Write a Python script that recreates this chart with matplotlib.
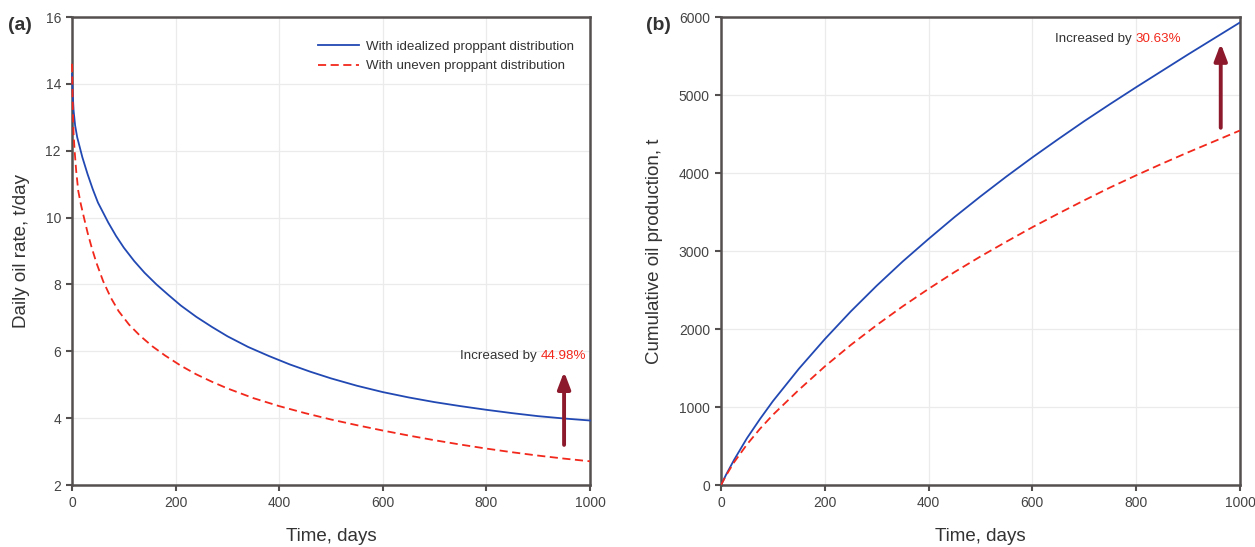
import matplotlib
matplotlib.use("Agg")
import matplotlib.pyplot as plt

plt.rcParams['font.family'] = ['Liberation Sans', 'DejaVu Sans']

# daily oil rate, t/day
t_rate_ideal = [0, 1, 3, 6, 10, 15, 20, 30, 40, 50, 60, 70, 85, 100, 120, 140, 163, 185, 210,
                240, 270, 300, 340, 380, 420, 460, 500, 550, 600, 650, 700, 750, 800, 850,
                900, 950, 1000]
rate_ideal = [14.3, 13.8, 13.2, 12.75, 12.4, 12.1, 11.8, 11.3, 10.85, 10.45, 10.15, 9.85,
              9.45, 9.1, 8.7, 8.35, 8.0, 7.7, 7.37, 7.03, 6.73, 6.45, 6.13, 5.86, 5.61, 5.39,
              5.19, 4.97, 4.78, 4.62, 4.48, 4.36, 4.25, 4.15, 4.06, 3.99, 3.93]
t_rate_uneven = [0, 1, 2, 3, 5, 8, 12, 17, 23, 30, 38, 47, 60, 75, 90, 110, 131, 155, 180,
                 210, 240, 270, 300, 350, 400, 450, 500, 550, 600, 650, 700, 750, 800, 850,
                 900, 950, 1000]
rate_uneven = [14.6, 13.7, 13.0, 12.5, 12.0, 11.4, 10.8, 10.4, 10.0, 9.55, 9.1, 8.65, 8.1,
               7.6, 7.2, 6.8, 6.47, 6.15, 5.87, 5.57, 5.31, 5.09, 4.89, 4.6, 4.36, 4.15,
               3.96, 3.79, 3.63, 3.48, 3.34, 3.21, 3.09, 2.98, 2.88, 2.79, 2.71]

# cumulative oil production, t
t_cum = [0, 10, 25, 50, 75, 100, 150, 200, 250, 300, 350, 400, 450, 500, 550, 600, 650, 700,
         750, 800, 850, 900, 950, 1000]
cum_ideal = [0, 135, 320, 600, 845, 1075, 1490, 1870, 2225, 2555, 2865, 3155, 3435, 3700,
             3955, 4200, 4435, 4665, 4885, 5100, 5310, 5520, 5725, 5930]
cum_uneven = [0, 125, 290, 520, 720, 900, 1220, 1520, 1795, 2050, 2290, 2515, 2730, 2930,
              3120, 3305, 3480, 3650, 3815, 3970, 4120, 4265, 4405, 4545]

blue = '#2249b3'
red = '#f2281c'
arrow_c = '#8c1a2c'
spine_c = '#555050'
txt_c = '#333333'
tick_c = '#444444'

fig = plt.figure(figsize=(12.55, 5.47), dpi=100)
ax1 = fig.add_axes([0.0574, 0.1133, 0.4127, 0.8556])
ax2 = fig.add_axes([0.5745, 0.1133, 0.4135, 0.8556])


def style(ax):
    for s in ax.spines.values():
        s.set_color(spine_c)
        s.set_linewidth(1.8)
    ax.grid(True, color='#ebebeb', linewidth=0.9)
    ax.set_axisbelow(True)
    ax.tick_params(direction='out', length=4, width=1.5, color=spine_c,
                   labelsize=10, labelcolor=tick_c, pad=4)
    ax.set_xlim(0, 1000)
    ax.set_xticks([0, 200, 400, 600, 800, 1000])
    ax.set_xlabel('Time, days', fontsize=13.5, color=txt_c)
    ax.xaxis.set_label_coords(0.5, -0.111)
    ax.xaxis.label.set_va('center')


def note(ax, x, y, pct):
    t1 = ax.text(x, y, 'Increased by ', color=txt_c, fontsize=9.6, ha='left', va='center')
    ax.annotate(pct, xy=(1, 0.5), xycoords=t1, color=red, fontsize=9.6,
                ha='left', va='center')


arrow_props = dict(arrowstyle='-|>,head_length=1.0,head_width=0.38', color=arrow_c,
                   lw=2.8, shrinkA=0, shrinkB=0)

style(ax1)
ax1.plot(t_rate_ideal, rate_ideal, color=blue, lw=1.3, zorder=3, clip_on=False,
         label='With idealized proppant distribution')
ax1.plot(t_rate_uneven, rate_uneven, color=red, lw=1.3, ls=(0, (4.5, 2.5)), zorder=3,
         clip_on=False, label='With uneven proppant distribution')
ax1.set_ylim(2, 16)
ax1.set_yticks([2, 4, 6, 8, 10, 12, 14, 16])
ax1.set_ylabel('Daily oil rate, t/day', fontsize=13.5, color=txt_c)
ax1.yaxis.set_label_coords(-0.098, 0.5)
ax1.yaxis.label.set_va('center')
leg = ax1.legend(loc='upper left', frameon=False, fontsize=9.6, handlelength=3.1,
                 bbox_to_anchor=(0.475, 0.95), borderpad=0, borderaxespad=0,
                 labelspacing=0.55, handletextpad=0.5)
for tx in leg.get_texts():
    tx.set_color(txt_c)
ax1.annotate('', xy=(950, 5.39), xytext=(950, 3.2), arrowprops=arrow_props)
note(ax1, 749, 5.86, '44.98%')

style(ax2)
ax2.plot(t_cum, cum_ideal, color=blue, lw=1.3, zorder=3)
ax2.plot(t_cum, cum_uneven, color=red, lw=1.3, ls=(0, (4.5, 2.5)), zorder=3)
ax2.set_ylim(0, 6000)
ax2.set_yticks([0, 1000, 2000, 3000, 4000, 5000, 6000])
ax2.set_ylabel('Cumulative oil production, t', fontsize=13.5, color=txt_c)
ax2.yaxis.set_label_coords(-0.129, 0.5)
ax2.yaxis.label.set_va('center')
ax2.annotate('', xy=(963, 5660), xytext=(963, 4580), arrowprops=arrow_props)
note(ax2, 643, 5718, '30.63%')

fig.text(8 / 1255, 1 - 25 / 547, '(a)', fontsize=14, fontweight='bold', color=txt_c,
         ha='left', va='center')
fig.text(646 / 1255, 1 - 25 / 547, '(b)', fontsize=14, fontweight='bold', color=txt_c,
         ha='left', va='center')

fig.savefig('out.png', dpi=100)
